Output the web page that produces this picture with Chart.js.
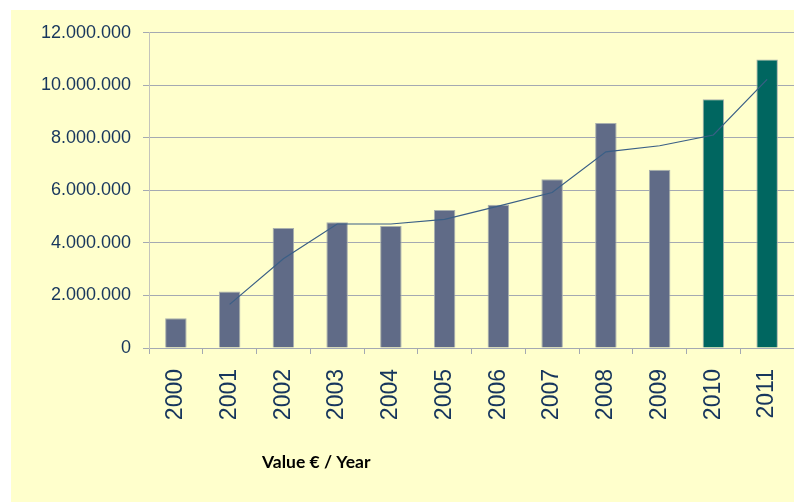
<!DOCTYPE html>
<html lang="en">
<head>
    <meta charset="UTF-8">
    <title>Value € / Year</title>
    <script src="https://cdn.jsdelivr.net/npm/chart.js"></script>
    <style>
        body {
            margin: 0;
            background: #ffffff;
        }
        .chart-box {
            position: absolute;
            left: 11px;
            top: 10px;
            width: 783px;
            height: 492px;
            background: #ffffcc;
        }
    </style>
</head>
<body>
    <div class="chart-box">
        <canvas id="valueChart" width="783" height="492"></canvas>
    </div>

    <script>
        // Data
        const years = ['2000', '2001', '2002', '2003', '2004', '2005', '2006', '2007', '2008', '2009', '2010', '2011'];
        const values = [1130000, 2150000, 4570000, 4790000, 4640000, 5250000, 5450000, 6420000, 8570000, 6790000, 9470000, 10980000];
        const trend = [null, 1660000, 3400000, 4720000, 4720000, 4900000, 5400000, 5920000, 7470000, 7700000, 8110000, 10230000];
        const barColors = ['#606b87', '#606b87', '#606b87', '#606b87', '#606b87', '#606b87', '#606b87', '#606b87', '#606b87', '#606b87', '#006660', '#006660'];
        const yTicks = [0, 2000000, 4000000, 6000000, 8000000, 10000000, 12000000];

        const labelColor = '#17365d';
        const gridColor = '#a4a9b2';

        // Caption under the axis
        const captionPlugin = {
            id: 'caption',
            afterDraw(chart) {
                const ctx = chart.ctx;
                ctx.save();
                ctx.font = 'bold 17.5px Lato, "Liberation Sans Narrow", sans-serif';
                ctx.fillStyle = '#000000';
                ctx.textAlign = 'left';
                ctx.textBaseline = 'alphabetic';
                ctx.fillText('Value € / Year', 251, 458);
                ctx.restore();
            }
        };

        new Chart(document.getElementById('valueChart'), {
            type: 'bar',
            data: {
                labels: years,
                datasets: [{
                    type: 'line',
                    data: trend,
                    borderColor: '#3a5f86',
                    borderWidth: 1.2,
                    pointRadius: 0,
                    tension: 0,
                    fill: false,
                    order: 0
                }, {
                    data: values,
                    backgroundColor: barColors,
                    borderColor: '#a9b0ad',
                    borderWidth: 1,
                    barPercentage: 0.4,
                    categoryPercentage: 1,
                    order: 1
                }]
            },
            options: {
                responsive: false,
                animation: false,
                layout: {
                    padding: { top: 18, left: 0, right: 0, bottom: 0 }
                },
                plugins: {
                    legend: { display: false },
                    tooltip: { enabled: false }
                },
                scales: {
                    x: {
                        offset: true,
                        afterFit(scale) {
                            scale.height = 154;
                            scale.paddingLeft = 0;
                            scale.paddingRight = 0;
                        },
                        grid: {
                            offset: true,
                            drawOnChartArea: false,
                            drawTicks: true,
                            tickLength: 6,
                            color: gridColor
                        },
                        border: { color: gridColor },
                        ticks: {
                            autoSkip: false,
                            minRotation: 90,
                            maxRotation: 90,
                            padding: 15,
                            color: labelColor,
                            font: { family: '"Liberation Sans", Arial, sans-serif', size: 23 }
                        }
                    },
                    y: {
                        min: 0,
                        max: 12000000,
                        afterFit(scale) { scale.width = 138; },
                        afterBuildTicks(scale) { scale.ticks = yTicks.map(v => ({ value: v })); },
                        grid: {
                            color: gridColor,
                            tickLength: 6
                        },
                        border: { color: '#c4c4bc' },
                        ticks: {
                            padding: 12,
                            color: labelColor,
                            font: { family: '"Liberation Sans", Arial, sans-serif', size: 18 },
                            callback: v => v.toString().replace(/\B(?=(\d{3})+(?!\d))/g, '.')
                        }
                    }
                }
            },
            plugins: [captionPlugin]
        });
    </script>
</body>
</html>
